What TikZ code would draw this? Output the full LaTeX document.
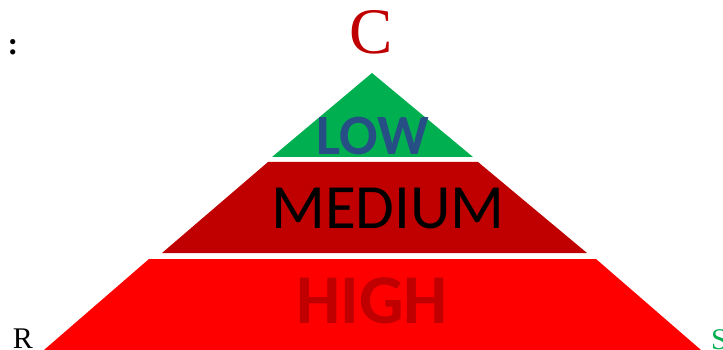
\documentclass[tikz,border=0pt]{standalone}
\usepackage{fontspec}
\setmainfont{Liberation Serif}
\newfontfamily\levelfont{Carlito}
\definecolor{lowgreen}{HTML}{00B050}
\definecolor{midred}{HTML}{C00000}
\definecolor{highred}{HTML}{FF0000}
\definecolor{lowblue}{HTML}{264F86}

\begin{document}
\begin{tikzpicture}[x=1pt, y=-1pt,
    levellabel/.style={inner sep=0pt, anchor=base, font=\levelfont},
    cornerlabel/.style={inner sep=0pt, font=\fontsize{30}{32}\selectfont}]
    \useasboundingbox (0,0) rectangle (723,350);

    % NIVELLS DE LA PIRÀMIDE
    \fill[lowgreen] (372,73) -- (473,157) -- (272,157) -- cycle;
    \fill[midred] (268,162) -- (478,162) -- (587,253) -- (162,253) -- cycle;
    \fill[highred] (149,259) -- (596,259) -- (701,350) -- (44,350) -- cycle;

    % ETIQUETES DELS NIVELLS
    \node[levellabel, text=lowblue, font=\levelfont\bfseries\fontsize{57}{60}\selectfont] (low) at (373,155) {LOW};
    \node[levellabel, text=black, font=\levelfont\fontsize{63}{66}\selectfont] (medium) at (388,228) {MEDIUM};
    \node[levellabel, text=midred, font=\levelfont\bfseries\fontsize{70}{72}\selectfont] (high) at (372,323) {HIGH};

    % VÈRTEXS
    \node[inner sep=0pt, anchor=base, text=midred, font=\fontsize{65}{68}\selectfont] (apexC) at (371,54) {C};
    \node[cornerlabel, anchor=base] (cornerR) at (23,348) {R};
    \node[cornerlabel, anchor=base west, text=lowgreen] (cornerS) at (711,349) {S};
    \node[inner sep=0pt, anchor=base, font=\bfseries\fontsize{32}{34}\selectfont] (colon) at (13,55) {:};
\end{tikzpicture}
\end{document}
